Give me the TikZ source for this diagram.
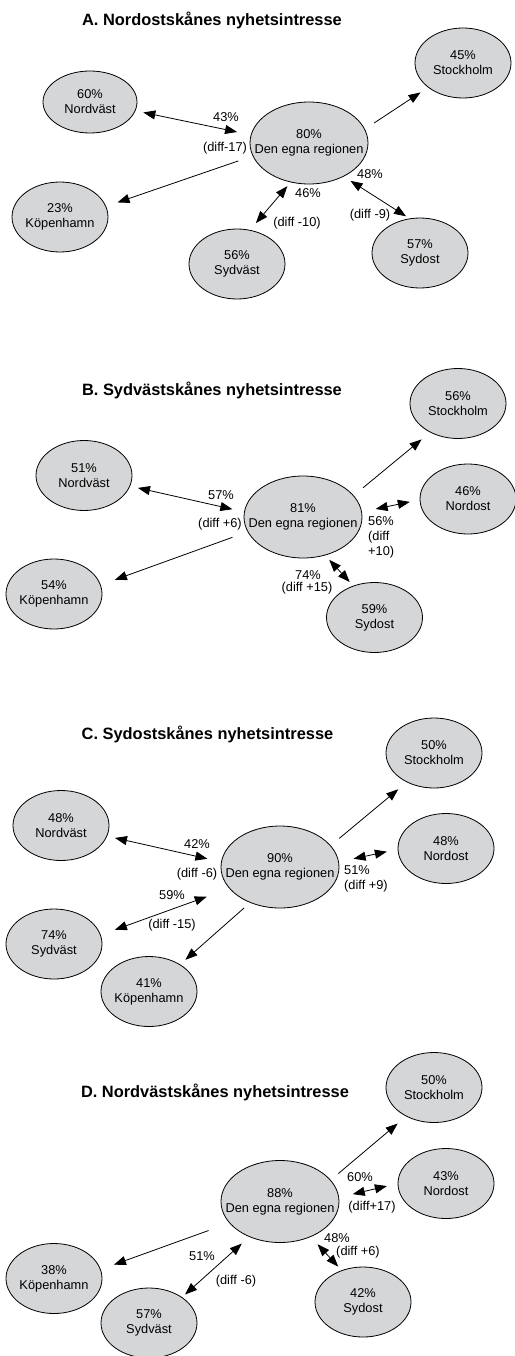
\documentclass[tikz,border=0pt]{standalone}
\usepackage{fontspec}
\setmainfont{Liberation Sans}
\usetikzlibrary{shapes.geometric}
\usetikzlibrary{arrows.meta}
\definecolor{bubblegray}{RGB}{213,214,216}
\tikzset{
  region/.style={ellipse, draw, fill=bubblegray, line width=0.8pt, minimum width=96pt, minimum height=70pt, inner xsep=-4pt, inner ysep=0pt, align=center, font=\fontsize{12.8}{15}\selectfont},
  home/.style={region, minimum width=118pt, minimum height=82pt, inner xsep=-13pt},
  share/.style={font=\fontsize{12.8}{15}\selectfont, inner sep=0pt, align=left},
  heading/.style={font=\fontsize{16.4}{19}\selectfont\bfseries},
  oneway/.style={line width=0.8pt, -{Triangle[length=12pt,width=9pt]}},
  twoway/.style={line width=0.8pt, {Triangle[length=12pt,width=9pt]}-{Triangle[length=12pt,width=9pt]}},
}

\begin{document}
\begin{tikzpicture}[x=1pt,y=-1pt]
      \useasboundingbox (0,0) rectangle (514,1356);

      % A
      \node[heading] (titleA) at (212,20) {A. Nordostskånes nyhetsintresse};
      \node[region, minimum width=94pt, minimum height=62pt] (nvA) at (90,102) {60\%\\Nordväst};
      \node[region] (stA) at (463,63) {45\%\\Stockholm};
      \node[home] (hubA) at (309,143) {80\%\\Den egna regionen};
      \node[region] (kpA) at (60,217) {23\%\\Köpenhamn};
      \node[region] (svA) at (237,264) {56\%\\Sydväst};
      \node[region] (soA) at (420,253) {57\%\\Sydost};
      \draw[twoway, shorten <=8pt, shorten >=14pt] (nvA.349) -- (hubA.172);
      \draw[oneway, shorten <=15pt, shorten >=12pt] (hubA.193) -- (kpA.13);
      \draw[oneway, shorten <=11pt, shorten >=9pt] (hubA.14) -- (stA.215);
      \draw[twoway, shorten <=9pt, shorten >=5pt] (svA.69) -- (hubA.245);
      \draw[twoway, shorten <=8pt, shorten >=4pt] (hubA.316) -- (soA.107);
      \node[share] (pA1) at (226,117) {43\%};
      \node[share] (dA1) at (225,148) {(diff-17)};
      \node[share] (pA2) at (308,193) {46\%};
      \node[share] (dA2) at (297,223) {(diff -10)};
      \node[share] (pA3) at (370,174) {48\%};
      \node[share] (dA3) at (370,215) {(diff -9)};

      % B
      \node[heading] (titleB) at (212,390) {B. Sydvästskånes nyhetsintresse};
      \node[region] (nvB) at (84,475.5) {51\%\\Nordväst};
      \node[region] (stB) at (458,403.5) {56\%\\Stockholm};
      \node[home] (hubB) at (303,517) {81\%\\Den egna regionen};
      \node[region] (noB) at (468,499) {46\%\\Nordost};
      \node[region] (kpB) at (54,594) {54\%\\Köpenhamn};
      \node[region] (soB) at (374.5,617.5) {59\%\\Sydost};
      \draw[twoway, shorten <=8pt, shorten >=12pt] (nvB.347) -- (hubB.175);
      \draw[oneway, shorten <=16pt, shorten >=15pt] (hubB.195) -- (kpB.11);
      \draw[oneway, shorten <=12pt, shorten >=11pt] (hubB.23) -- (stB.226);
      \draw[twoway, shorten <=14pt, shorten >=10pt] (hubB.5) -- (noB.181);
      \draw[twoway, shorten <=6pt, shorten >=5pt] (hubB.300) -- (soB.124);
      \node[share] (pB1) at (221,495) {57\%};
      \node[share] (dB1) at (220,524) {(diff +6)};
      \node[share, anchor=west] (dB2) at (368,537) {56\%\\(diff\\+10)};
      \node[share] (pB3) at (308,575) {74\%};
      \node[share] (dB3) at (307,588) {(diff +15)};

      % C
      \node[heading] (titleC) at (207.5,734) {C. Sydostskånes nyhetsintresse};
      \node[region] (stC) at (434,753) {50\%\\Stockholm};
      \node[region] (nvC) at (61,825.5) {48\%\\Nordväst};
      \node[home] (hubC) at (280,867) {90\%\\Den egna regionen};
      \node[region] (noC) at (446,848.5) {48\%\\Nordost};
      \node[region] (svC) at (54,944) {74\%\\Sydväst};
      \node[region] (kpC) at (149,991.5) {41\%\\Köpenhamn};
      \draw[twoway, shorten <=8pt, shorten >=14pt] (nvC.347) -- (hubC.175);
      \draw[oneway, shorten <=11pt, shorten >=11pt] (hubC.23) -- (stC.227);
      \draw[twoway, shorten <=15pt, shorten >=11pt] (hubC.5) -- (noC.181);
      \draw[twoway, shorten <=15pt, shorten >=24pt] (svC.11) -- (hubC.203);
      \draw[oneway, shorten <=8pt, shorten >=7pt] (hubC.230) -- (kpC.41);
      \node[share] (pC1) at (197,844) {42\%};
      \node[share] (dC1) at (197,874) {(diff -6)};
      \node[share, anchor=west] (dC2) at (344,878.5) {51\%\\(diff +9)};
      \node[share] (pC3) at (172,895) {59\%};
      \node[share] (dC3) at (172,925) {(diff -15)};

      % D
      \node[heading] (titleD) at (215,1092) {D. Nordvästskånes nyhetsintresse};
      \node[region] (stD) at (434,1087.5) {50\%\\Stockholm};
      \node[region] (noD) at (446,1183.5) {43\%\\Nordost};
      \node[home] (hubD) at (280,1201.5) {88\%\\Den egna regionen};
      \node[region] (kpD) at (54,1278.5) {38\%\\Köpenhamn};
      \node[region] (svD) at (149,1323) {57\%\\Sydväst};
      \node[region] (soD) at (363,1302) {42\%\\Sydost};
      \draw[oneway, shorten <=10pt, shorten >=11pt] (hubD.23) -- (stD.226);
      \draw[twoway, shorten <=14pt, shorten >=11pt] (hubD.4) -- (noD.180);
      \draw[oneway, shorten <=22pt, shorten >=14pt] (hubD.203) -- (kpD.11);
      \draw[twoway, shorten <=4pt, shorten >=10pt] (svD.38) -- (hubD.229);
      \draw[twoway, shorten <=10pt, shorten >=5pt] (hubD.311) -- (soD.124);
      \node[share] (pD1) at (360,1177) {60\%};
      \node[share] (dD1) at (372,1207) {(diff+17)};
      \node[share] (pD2) at (202,1256) {51\%};
      \node[share] (dD2) at (236,1281) {(diff -6)};
      \node[share] (pD3) at (337,1238) {48\%};
      \node[share] (dD3) at (358,1252) {(diff +6)};
\end{tikzpicture}
\end{document}
